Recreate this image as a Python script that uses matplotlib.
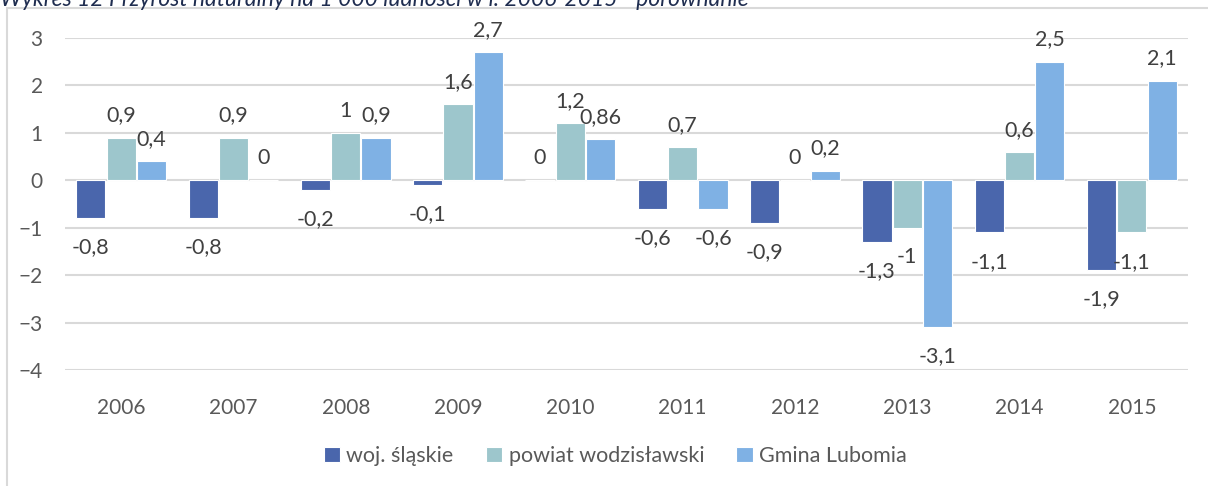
import numpy as np
import matplotlib
matplotlib.use("Agg")
import matplotlib.pyplot as plt
from matplotlib.patches import Rectangle

years = ["2006", "2007", "2008", "2009", "2010", "2011", "2012", "2013", "2014", "2015"]
woj = [-0.8, -0.8, -0.2, -0.1, 0, -0.6, -0.9, -1.3, -1.1, -1.9]
powiat = [0.9, 0.9, 1, 1.6, 1.2, 0.7, 0, -1, 0.6, -1.1]
gmina = [0.4, 0, 0.9, 2.7, 0.86, -0.6, 0.2, -3.1, 2.5, 2.1]
series_names = ["woj. śląskie", "powiat wodzisławski", "Gmina Lubomia"]
colors = ["#4a66ac", "#9dc6cc", "#7fb1e4"]

plt.rcParams['font.family'] = ['Lato', 'DejaVu Sans']

fig = plt.figure(figsize=(12.08, 4.86), dpi=100)
ax = fig.add_axes([65 / 1208, 1 - 370 / 486, 1123 / 1208, 332 / 486])

x = np.arange(len(years))
w = 0.26
offsets = [-0.27, 0, 0.27]

def fmt(v):
    return ("%g" % v).replace(".", ",")

for vals, off, col, name in zip([woj, powiat, gmina], offsets, colors, series_names):
    ax.bar(x + off, vals, w, color=col, edgecolor="white", linewidth=0.8, label=name, zorder=3)
    for xi, v in zip(x + off, vals):
        dy = 16 if v >= 0 else -21
        ax.annotate(fmt(v), (xi, v), xytext=(0, dy), textcoords="offset points",
                    ha="center", va="center", fontsize=15.5, color="#404040")

ax.set_xlim(-0.5, 9.5)
ax.set_ylim(-4, 3)
ax.set_yticks(range(-4, 4))
ax.set_xticks(x)
ax.set_xticklabels(years)
ax.grid(axis="y", color="#d9d9d9", linewidth=1.5, zorder=0)
ax.tick_params(axis="both", length=0, labelsize=15, labelcolor="#595959")
ax.tick_params(axis="y", pad=16)
ax.tick_params(axis="x", pad=20)
for s in ax.spines.values():
    s.set_visible(False)

ax.legend(loc="center", bbox_to_anchor=(0.49, (456 - 370) / -332), ncol=3, frameon=False,
          fontsize=15.5, labelcolor="#595959", handlelength=0.75, handleheight=0.75,
          handletextpad=0.3, columnspacing=1.5)

# ramka wykresu
fig.add_artist(Rectangle((7 / 1208, -0.5), 1.2, 1 - 8 / 486 + 0.5, transform=fig.transFigure,
                         fill=False, edgecolor="#d9d9d9", linewidth=1.5))

fig.text(0.0, 1 - 6 / 486, "Wykres 12 Przyrost naturalny na 1 000 ludności w l. 2006-2015 - porównanie",
         ha="left", va="baseline", fontsize=16.5, style="italic", color="#1f2d50")

fig.savefig("out.png", dpi=100)
